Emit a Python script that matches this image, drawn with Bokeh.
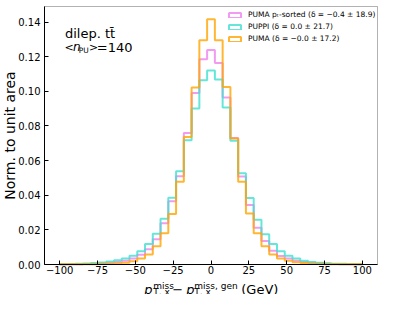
import numpy as np
from bokeh.plotting import figure
from bokeh.models import (Range1d, FixedTicker, Label, Legend, LegendItem,
                          LinearAxis, BoxAnnotation)
from bokeh.embed import file_html
from bokeh.resources import INLINE

BIN_LOW = -100.0
BIN_HIGH = 100.0
N_BINS = 39

puma_sorted = [0.0001, 0.0001, 0.0002, 0.0003, 0.0005, 0.0007, 0.0010, 0.0015, 0.0021, 0.0034,
               0.0056, 0.0088, 0.0146, 0.0238, 0.0366, 0.0510, 0.0760, 0.0991, 0.1186, 0.1239,
               0.1164, 0.0965, 0.0730, 0.0508, 0.0343, 0.0212, 0.0135, 0.0080, 0.0049, 0.0034,
               0.0022, 0.0014, 0.0010, 0.0007, 0.0005, 0.0003, 0.0002, 0.0001, 0.0001]
puppi = [0.0002, 0.0003, 0.0004, 0.0006, 0.0008, 0.0011, 0.0017, 0.0024, 0.0034, 0.0051,
         0.0077, 0.0118, 0.0178, 0.0264, 0.0386, 0.0538, 0.0718, 0.0901, 0.1064, 0.1121,
         0.1068, 0.0907, 0.0714, 0.0527, 0.0384, 0.0259, 0.0174, 0.0118, 0.0077, 0.0051,
         0.0034, 0.0021, 0.0015, 0.0010, 0.0007, 0.0005, 0.0004, 0.0003, 0.0002]
puma = [0.0001, 0.0001, 0.0001, 0.0002, 0.0002, 0.0003, 0.0004, 0.0006, 0.0010, 0.0019,
        0.0035, 0.0058, 0.0105, 0.0180, 0.0292, 0.0478, 0.0737, 0.1022, 0.1295, 0.1417,
        0.1295, 0.1025, 0.0727, 0.0478, 0.0294, 0.0180, 0.0105, 0.0058, 0.0034, 0.0021,
        0.0013, 0.0008, 0.0005, 0.0003, 0.0002, 0.0002, 0.0001, 0.0001, 0.0001]

series = [puma_sorted, puppi, puma]
series_labels = ["PUMA pₜ-sorted (δ = −0.4 ± 18.9)",
                 "PUPPI (δ = 0.0 ± 21.7)",
                 "PUMA (δ = −0.0 ± 17.2)"]
series_colors = ["violet", "turquoise", "orange"]

x_ticks = [-100, -75, -50, -25, 0, 25, 50, 75, 100]
x_tick_labels = ["−100", "−75", "−50", "−25", "0", "25", "50", "75", "100"]
y_ticks = [0.0, 0.02, 0.04, 0.06, 0.08, 0.10, 0.12, 0.14]
y_tick_labels = ["0.00", "0.02", "0.04", "0.06", "0.08", "0.10", "0.12", "0.14"]

X_MIN, X_MAX = -110.0, 110.0
Y_MIN, Y_MAX = 0.0, 0.149

FONT = "DejaVu Sans"

# canvas layout (pixels): the plotting box sits inside a full-canvas frame
W, H = 379, 294
BOX_L, BOX_R, BOX_T, BOX_B = 44, 377, 6, 264

sx = (BOX_R - BOX_L) / (X_MAX - X_MIN)
sy = (BOX_B - BOX_T) / (Y_MAX - Y_MIN)
x_range = Range1d(X_MIN - BOX_L / sx, X_MAX + (W - BOX_R) / sx)
y_range = Range1d(Y_MIN - (H - BOX_B) / sy, Y_MAX + BOX_T / sy)

edges = np.linspace(BIN_LOW, BIN_HIGH, N_BINS + 1)

p = figure(width=W, height=H, x_range=x_range, y_range=y_range,
           output_backend="svg", toolbar_location=None,
           x_axis_location=None, y_axis_location=None, min_border=0)
p.outline_line_color = None
p.background_fill_color = "white"
p.border_fill_color = "white"
p.xgrid.visible = False
p.ygrid.visible = False

items = []
for vals, lab_text, col in zip(series, series_labels, series_colors):
    xs = np.repeat(edges, 2)
    ys = np.concatenate([[0.0], np.repeat(np.array(vals), 2), [0.0]])
    p.line(xs, ys, line_color=col, line_width=2, line_alpha=0.8)
    dummy = p.quad(left=[np.nan], right=[np.nan], top=[np.nan], bottom=[np.nan], fill_alpha=0,
                   line_color=col, line_width=2, line_alpha=0.8)
    items.append(LegendItem(label=lab_text, renderers=[dummy]))

# axes frame box
p.add_layout(BoxAnnotation(left=X_MIN, right=X_MAX, bottom=Y_MIN, top=Y_MAX,
                           fill_color=None, fill_alpha=0, line_color="black", line_width=1))

xaxis = LinearAxis(fixed_location=Y_MIN, bounds=(X_MIN, X_MAX))
yaxis = LinearAxis(fixed_location=X_MIN, bounds=(Y_MIN, Y_MAX))
p.add_layout(xaxis, "below")
p.add_layout(yaxis, "left")

for ax in (xaxis, yaxis):
    ax.major_tick_in = 4
    ax.major_tick_out = 0
    ax.minor_tick_in = 0
    ax.minor_tick_out = 0
    ax.axis_line_color = "black"
    ax.major_tick_line_color = "black"
    ax.major_label_text_font = FONT
    ax.major_label_text_font_size = "10px"
    ax.major_label_text_color = "black"

xaxis.ticker = FixedTicker(ticks=x_ticks)
xaxis.major_label_overrides = {float(t): s for t, s in zip(x_ticks, x_tick_labels)}
xaxis.major_label_standoff = 1
yaxis.ticker = FixedTicker(ticks=y_ticks)
yaxis.major_label_overrides = {float(t): s for t, s in zip(y_ticks, y_tick_labels)}
yaxis.major_label_standoff = 4
yaxis.axis_label = "Norm. to unit area"
yaxis.axis_label_text_font = FONT
yaxis.axis_label_text_font_size = "14px"
yaxis.axis_label_text_font_style = "normal"
yaxis.axis_label_text_color = "black"
yaxis.axis_label_standoff = -3

legend = Legend(items=items, location=(227, 251), margin=0, padding=0,
                background_fill_alpha=0, border_line_alpha=0,
                label_text_font=FONT, label_text_font_size="7.5px", label_text_color="black",
                glyph_width=15, glyph_height=6, label_standoff=6, spacing=3, label_height=8)
p.add_layout(legend)


def add_label(text, x, y, dx=0, dy=0, size="13px", style="normal"):
    p.add_layout(Label(x=x, y=y, x_offset=dx, y_offset=dy, text=text,
                       text_font=FONT, text_font_size=size, text_font_style=style,
                       text_color="black", text_baseline="alphabetic", text_align="left"))


ax0, ay0 = -96.5, 0.1332
add_label("dilep. tt\u0304", ax0, ay0)
ay1 = 0.1255
add_label("<", ax0, ay1, -0.5, size="11px")
add_label("n", ax0, ay1, 8, size="12px", style="italic")
add_label("PU", ax0, ay1, 13.7, -3, size="7.5px")
add_label(">", ax0, ay1, 24, size="11px")
add_label("=140", ax0, ay1, 31.8)

# x-axis title, composed below the x axis
add_label("p", 0, Y_MIN, -66.7, -25, style="italic")
add_label("miss", 0, Y_MIN, -57.7, -21.5, size="9px")
add_label("T, x", 0, Y_MIN, -57.7, -27.5, size="9px")
add_label("−", 0, Y_MIN, -38.7, -25)
add_label("p", 0, Y_MIN, -24.7, -25, style="italic")
add_label("miss, gen", 0, Y_MIN, -16.7, -21.5, size="9px")
add_label("T, x", 0, Y_MIN, -16.7, -27.5, size="9px")
add_label("(GeV)", 0, Y_MIN, 30.3, -25)

open("out.html", "w").write(file_html(p, INLINE))
